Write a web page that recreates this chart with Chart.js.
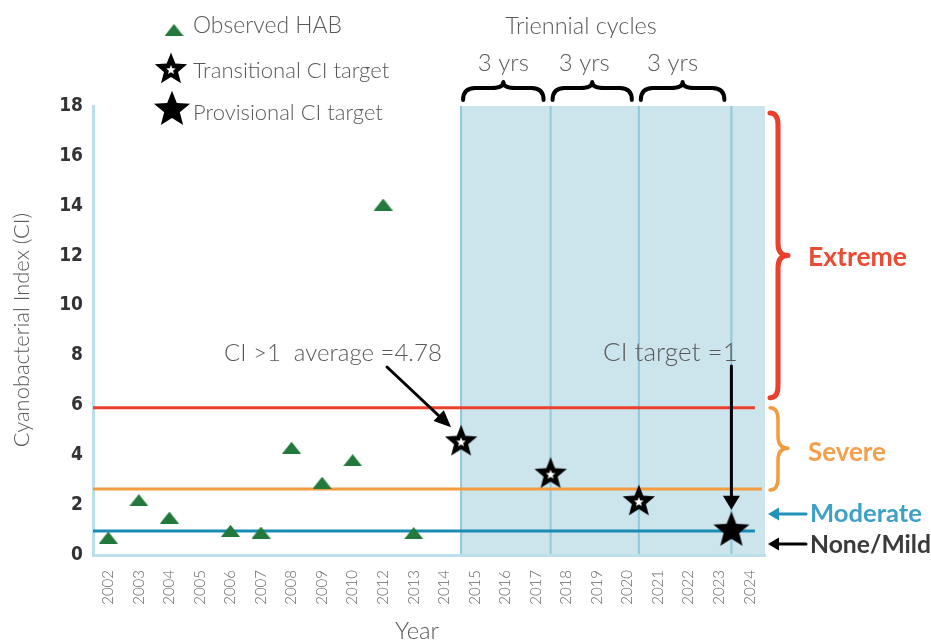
<!DOCTYPE html>
<html>
<head>
<meta charset="utf-8">
<script src="https://cdn.jsdelivr.net/npm/chart.js@4.4.1/dist/chart.umd.min.js"></script>
<style>
  body { margin: 0; background: #fff; }
  canvas { display: block; }
</style>
</head>
<body>
<canvas id="ciChart" width="931" height="642"></canvas>
<script>
// x axis labels, as printed on the original (no 2011)
const yearLabels = ['2002', '2003', '2004', '2005', '2006', '2007', '2008', '2009', '2010', '2012', '2013',
  '2014', '2015', '2016', '2017', '2018', '2019', '2020', '2021', '2022', '2023', '2024'];
// observed HAB cyanobacterial index, one per label (null = no marker)
const habValues = [0.7, 2.2, 1.5, null, 0.97, 0.9, 4.3, 2.9, 3.8, 14.05, 0.88,
  null, null, null, null, null, null, null, null, null, null, null];
// CI targets (position in category units, value)
const transitionalPos = [11.55, 14.48, 17.37];
const transitionalValues = [4.6, 3.3, 2.2];
const provisionalPos = [20.4];
const provisionalValues = [1.05];
// triennial cycle boundaries, category units
const cycleBounds = [11.55, 14.48, 17.37, 20.4];
// severity thresholds: extreme / severe / moderate
const thresholdValues = [5.9, 2.65, 0.96];
const yTickValues = [0, 2, 4, 6, 8, 10, 12, 14, 16, 18];

const GREEN = '#23793b', RED = '#ec3f2c', ORANGE = '#f39b3e', TEAL = '#1a8cb3';
const SHADE = '#cce4ec', CYCLE = '#8fc9db', AXIS = '#bcdfee', TEXT = '#595959';
const FAMILY = "Lato, 'Open Sans', sans-serif";
const thresholdColors = [RED, ORANGE, TEAL];
const thresholdEnds = [21.17, 21.4, 21.17];

function makeCanvas(w, h, draw) {
    const c = document.createElement('canvas');
    c.width = w; c.height = h;
    draw(c.getContext('2d'), w, h);
    return c;
}
function starPath(ctx, cx, cy, rOut, rIn) {
    ctx.beginPath();
    for (let i = 0; i < 10; i++) {
        const r = i % 2 ? rIn : rOut;
        const a = -Math.PI / 2 + i * Math.PI / 5;
        ctx.lineTo(cx + r * Math.cos(a), cy + r * Math.sin(a));
    }
    ctx.closePath();
}
const triangleImg = makeCanvas(19, 12, (c, w, h) => {
    c.fillStyle = GREEN;
    c.beginPath(); c.moveTo(0, h); c.lineTo(w / 2, 0); c.lineTo(w, h); c.closePath(); c.fill();
});
const transStarImg = makeCanvas(36, 36, (c) => {
    c.fillStyle = '#000'; starPath(c, 18, 19.6, 17, 7.4); c.fill();
    c.fillStyle = '#fff'; starPath(c, 18, 20, 5, 2.2); c.fill();
});
const provStarImg = makeCanvas(40, 40, (c) => {
    c.fillStyle = '#000'; starPath(c, 20, 21.7, 19, 8.2); c.fill();
});

const habPoints = habValues.map((v, i) => ({ x: i, y: v })).filter(p => p.y !== null);
const transPoints = transitionalPos.map((p, i) => ({ x: p, y: transitionalValues[i] }));
const provPoints = provisionalPos.map((p, i) => ({ x: p, y: provisionalValues[i] }));

// texte dengan lebar tertentu
function text(ctx, str, x, y, width, opts = {}) {
    const weight = opts.weight || '300';
    ctx.font = `${weight} 20px ${FAMILY}`;
    const size = 20 * width / ctx.measureText(str).width;
    ctx.font = `${weight} ${size.toFixed(1)}px ${FAMILY}`;
    ctx.fillStyle = opts.color || TEXT;
    ctx.textAlign = opts.align || 'center';
    ctx.textBaseline = 'middle';
    ctx.fillText(str, x, y);
}
function arrow(ctx, x1, y1, x2, y2, lw, hl, hw, color) {
    const ang = Math.atan2(y2 - y1, x2 - x1);
    const bx = x2 - hl * Math.cos(ang), by = y2 - hl * Math.sin(ang);
    ctx.strokeStyle = color; ctx.fillStyle = color; ctx.lineWidth = lw;
    ctx.beginPath(); ctx.moveTo(x1, y1); ctx.lineTo(bx + 2 * Math.cos(ang), by + 2 * Math.sin(ang)); ctx.stroke();
    ctx.beginPath(); ctx.moveTo(x2, y2);
    ctx.lineTo(bx + hw / 2 * Math.sin(ang), by - hw / 2 * Math.cos(ang));
    ctx.lineTo(bx - hw / 2 * Math.sin(ang), by + hw / 2 * Math.cos(ang));
    ctx.closePath(); ctx.fill();
}
function hBrace(ctx, x1, x2, yEnd, yBar, yTip) {
    const xm = (x1 + x2) / 2, r = 12;
    ctx.beginPath();
    ctx.moveTo(x1, yEnd);
    ctx.quadraticCurveTo(x1, yBar, x1 + r, yBar);
    ctx.lineTo(xm - r, yBar);
    ctx.quadraticCurveTo(xm, yBar, xm, yTip);
    ctx.quadraticCurveTo(xm, yBar, xm + r, yBar);
    ctx.lineTo(x2 - r, yBar);
    ctx.quadraticCurveTo(x2, yBar, x2, yEnd);
    ctx.stroke();
}
function vBrace(ctx, y1, y2, xEnd, xBar, xTip, yTip) {
    const r = 12;
    ctx.beginPath();
    ctx.moveTo(xEnd, y1);
    ctx.quadraticCurveTo(xBar, y1, xBar, y1 + r);
    ctx.lineTo(xBar, yTip - r);
    ctx.quadraticCurveTo(xBar, yTip, xTip, yTip);
    ctx.quadraticCurveTo(xBar, yTip, xBar, yTip + r);
    ctx.lineTo(xBar, y2 - r);
    ctx.quadraticCurveTo(xBar, y2, xEnd, y2);
    ctx.stroke();
}

const decorPlugin = {
    id: 'decor',
    beforeDraw(chart) {
        const { ctx, chartArea: a, scales: { x } } = chart;
        const x0 = x.getPixelForValue(cycleBounds[0]);
        ctx.save();
        ctx.fillStyle = SHADE;
        ctx.fillRect(x0, a.top, a.right - x0, a.bottom - a.top);
        ctx.strokeStyle = CYCLE; ctx.lineWidth = 2;
        cycleBounds.forEach(b => {
            const px = x.getPixelForValue(b);
            ctx.beginPath(); ctx.moveTo(px, a.top); ctx.lineTo(px, a.bottom); ctx.stroke();
        });
        ctx.restore();
    },
    afterDraw(chart) {
        const { ctx, chartArea: a, scales: { x, y } } = chart;
        ctx.save();
        ctx.lineCap = 'round'; ctx.lineJoin = 'round';

        // legend
        ctx.drawImage(triangleImg, 174 - 9.5, 30 - 6);
        ctx.drawImage(transStarImg, 171 - 18, 68 - 18);
        ctx.drawImage(provStarImg, 172 - 20, 108 - 20);
        text(ctx, 'Observed HAB', 193, 26, 149, { align: 'left' });
        text(ctx, 'Transitional CI target', 193, 71, 196, { align: 'left' });
        text(ctx, 'Provisional CI target', 193, 113, 190, { align: 'left' });

        // axis titles
        text(ctx, 'Year', 417, 631, 44);
        ctx.save();
        ctx.translate(22, 330); ctx.rotate(-Math.PI / 2);
        text(ctx, 'Cyanobacterial Index (CI)', 0, 0, 234);
        ctx.restore();

        // triennial cycles
        const cx = cycleBounds.map(b => x.getPixelForValue(b));
        const yrsShift = [0, -8, -10];
        ctx.strokeStyle = '#000'; ctx.lineWidth = 4;
        for (let i = 0; i < 3; i++) {
            const x1 = cx[i] + 2, x2 = cx[i + 1] - 7;
            hBrace(ctx, x1, x2, 100, 88, 82);
            text(ctx, '3 yrs', (x1 + x2) / 2 + yrsShift[i], 63, 51);
        }
        text(ctx, 'Triennial cycles', 581, 26, 152);

        // severity classes
        const yRed = y.getPixelForValue(thresholdValues[0]);
        const yOrange = y.getPixelForValue(thresholdValues[1]);
        const yTeal = y.getPixelForValue(thresholdValues[2]);
        const y0 = y.getPixelForValue(0);
        ctx.strokeStyle = RED; ctx.lineWidth = 5;
        const redTip = (a.top + 7 + yRed - 10) / 2;
        vBrace(ctx, a.top + 7, yRed - 10, 770, 778, 788, redTip);
        text(ctx, 'Extreme', 808, redTip + 2, 99, { weight: 'bold', color: '#ea4b33', align: 'left' });
        ctx.strokeStyle = ORANGE; ctx.lineWidth = 3.5;
        const orTip = (yRed + yOrange) / 2;
        vBrace(ctx, yRed, yOrange + 1, 770, 778, 788, orTip);
        text(ctx, 'Severe', 808, orTip + 4, 78, { weight: 'bold', color: '#f3a04e', align: 'left' });
        const yMod = (yOrange + yTeal) / 2 + 4;
        arrow(ctx, 806, yMod, 768, yMod, 3, 11, 13, '#1f93b8');
        text(ctx, 'Moderate', 810, yMod, 112, { weight: 'bold', color: '#3da0c5', align: 'left' });
        const yNone = (yTeal + y0) / 2 + 1;
        arrow(ctx, 806, yNone, 768, yNone, 3, 11, 13, '#000');
        text(ctx, 'None/Mild', 810, yNone + 1, 121, { weight: 'bold', color: '#3a3a3a', align: 'left' });

        // annotations
        const s1x = x.getPixelForValue(transitionalPos[0]), s1y = y.getPixelForValue(transitionalValues[0]);
        text(ctx, 'CI >1  average =4.78', 224, 353, 218, { align: 'left' });
        arrow(ctx, 387, 367, s1x - 10, s1y - 13, 3, 17, 15, '#000');
        const s4x = x.getPixelForValue(provisionalPos[0]), s4y = y.getPixelForValue(provisionalValues[0]);
        text(ctx, 'CI target =1', 603, 353, 135, { align: 'left' });
        arrow(ctx, s4x, 366, s4x, s4y - 19, 3, 14, 17, '#000');
        ctx.restore();
    }
};

new Chart(document.getElementById('ciChart'), {
    type: 'scatter',
    data: {
        datasets: [
            { label: 'Observed HAB', data: habPoints, pointStyle: triangleImg, pointRadius: 9, order: 1 },
            { label: 'Transitional CI target', data: transPoints, pointStyle: transStarImg, pointRadius: 17, order: 0 },
            { label: 'Provisional CI target', data: provPoints, pointStyle: provStarImg, pointRadius: 19, order: 0 },
            ...thresholdValues.map((v, i) => ({
                type: 'line',
                data: [{ x: -0.5, y: v }, { x: thresholdEnds[i], y: v }],
                borderColor: thresholdColors[i],
                borderWidth: 3,
                pointRadius: 0,
                order: 5
            }))
        ]
    },
    options: {
        responsive: false,
        animation: false,
        layout: { padding: { left: 0, top: 106, right: 166, bottom: 0 } },
        plugins: { legend: { display: false }, tooltip: { enabled: false } },
        scales: {
            x: {
                type: 'linear',
                min: -0.5,
                max: yearLabels.length - 0.5,
                grid: { display: false, drawTicks: false },
                border: { color: AXIS, width: 3 },
                afterBuildTicks: (s) => { s.ticks = yearLabels.map((_, i) => ({ value: i })); },
                afterFit: (s) => { s.height = 87; },
                ticks: {
                    autoSkip: false,
                    maxRotation: 90,
                    minRotation: 90,
                    padding: 15,
                    color: '#666',
                    font: { family: FAMILY, size: 15, weight: '300' },
                    callback: (v) => yearLabels[v]
                }
            },
            y: {
                min: 0,
                max: 18,
                grid: { display: false, drawTicks: false },
                border: { color: AXIS, width: 3 },
                afterBuildTicks: (s) => { s.ticks = yTickValues.map(v => ({ value: v })); },
                afterFit: (s) => { s.width = 93; },
                ticks: {
                    padding: 10,
                    color: '#333',
                    font: { family: "'Liberation Sans Narrow', 'DejaVu Sans Condensed', sans-serif", size: 19, weight: 'bold' }
                }
            }
        }
    },
    plugins: [decorPlugin]
});
</script>
</body>
</html>
